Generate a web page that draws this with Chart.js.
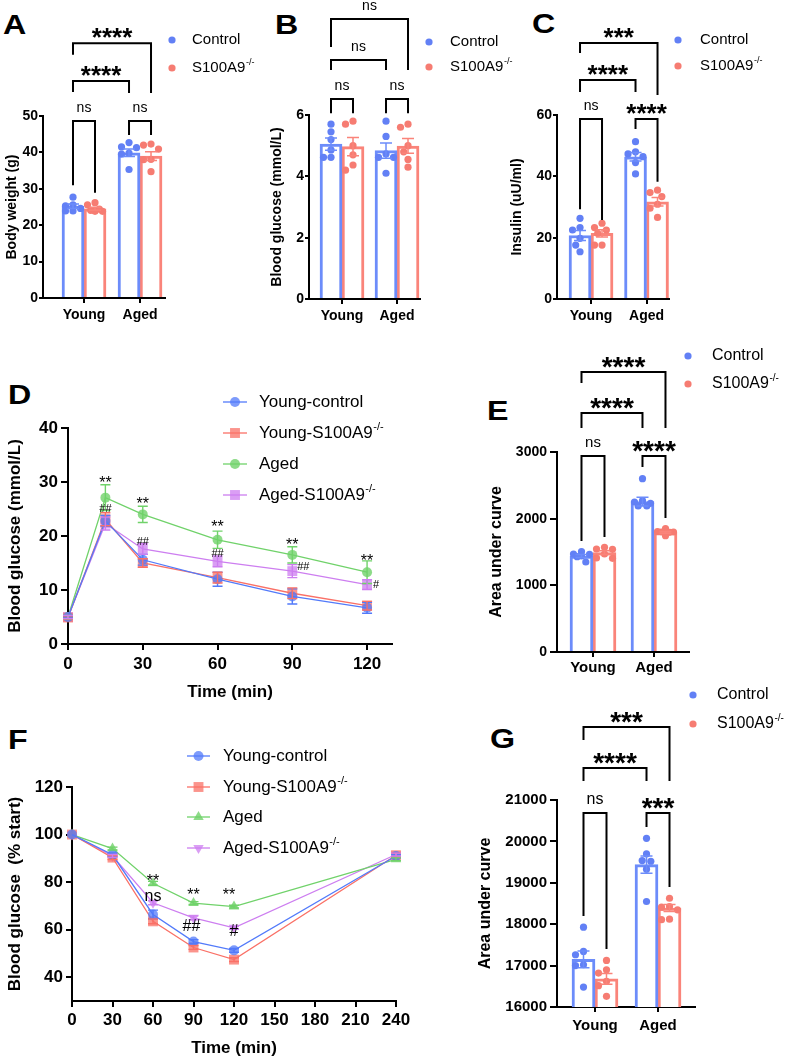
<!DOCTYPE html>
<html>
<head>
<meta charset="utf-8">
<script src="https://cdn.jsdelivr.net/npm/chart.js@4.4.1/dist/chart.umd.min.js"></script>
<style>
  body { margin: 0; background: #fff; width: 790px; height: 1061px; position: relative; overflow: hidden; }
  canvas { position: absolute; left: 0; top: 0; }
  .tag { position: absolute; font: bold 28px "Liberation Sans", Arial, sans-serif; line-height: 1; transform: scaleX(1.15); transform-origin: left top; }
</style>
</head>
<body>
<div class="tag" style="left:3px;top:11px">A</div>
<div class="tag" style="left:275px;top:11px">B</div>
<div class="tag" style="left:532px;top:10px">C</div>
<div class="tag" style="left:8px;top:381px">D</div>
<div class="tag" style="left:487px;top:397px">E</div>
<div class="tag" style="left:8px;top:726px">F</div>
<div class="tag" style="left:490px;top:725px">G</div>
<canvas id="cA" width="790" height="1061"></canvas>
<canvas id="cB" width="790" height="1061"></canvas>
<canvas id="cC" width="790" height="1061"></canvas>
<canvas id="cD" width="790" height="1061"></canvas>
<canvas id="cE" width="790" height="1061"></canvas>
<canvas id="cF" width="790" height="1061"></canvas>
<canvas id="cG" width="790" height="1061"></canvas>
<script>
const FONT = '"Liberation Sans", Arial, Helvetica, sans-serif';
Chart.defaults.font.family = FONT;
Chart.defaults.color = '#000';
Chart.defaults.animation = false;
Chart.defaults.events = [];

const BAR_BLUE = 'rgb(108,140,250)', BAR_RED = 'rgb(250,132,122)';
const DOT_BLUE = 'rgb(98,128,245)', DOT_RED = 'rgb(246,124,114)';

const groups = ['Young', 'Aged'];

// A: body weight (g)
const aTicks = [0, 10, 20, 30, 40, 50];
const aCtrlMean = [25.2, 39.9], aCtrlSem = [0.6, 1.0];
const aKoMean = [24.5, 39.0], aKoSem = [0.4, 1.2];
const aYoungCtrl = [27.7, 25.6, 25.3, 24.6, 23.9, 23.9];
const aYoungKo = [26.2, 25.6, 24.4, 24.1, 23.8, 23.8];
const aAgedCtrl = [42.7, 41.5, 41.3, 39.8, 39.5, 35.3];
const aAgedKo = [42.3, 42.0, 40.9, 38.1, 38.0, 34.7];

// B: blood glucose (mmol/L)
const bTicks = [0, 2, 4, 6];
const bCtrlMean = [5.05, 4.84], bCtrlSem = [0.2, 0.25];
const bKoMean = [4.97, 4.99], bKoSem = [0.3, 0.24];
const bYoungCtrl = [5.7, 5.45, 5.2, 4.86, 4.62, 4.62];
const bYoungKo = [5.8, 5.7, 5.0, 4.7, 4.37, 4.2];
const bAgedCtrl = [5.8, 5.3, 4.73, 4.62, 4.62, 4.1];
const bAgedKo = [5.7, 5.6, 5.0, 4.8, 4.55, 4.3];

// C: insulin (uU/ml)
const cTicks = [0, 20, 40, 60];
const cCtrlMean = [20.7, 46.4], cCtrlSem = [1.6, 1.4];
const cKoMean = [21.4, 31.7], cKoSem = [1.2, 1.4];
const cYoungCtrl = [26.3, 23.3, 22.5, 19.8, 17.6, 15.4];
const cYoungKo = [24.7, 23.3, 22.5, 21.4, 17.6, 17.6];
const cAgedCtrl = [51.3, 48.0, 47.3, 46.4, 44.5, 40.8];
const cAgedKo = [35.5, 34.7, 33.4, 30.9, 29.6, 26.6];

// D: GTT blood glucose (mmol/L)
const dTimes = [0, 15, 30, 60, 90, 120];
const dTicksX = [0, 30, 60, 90, 120];
const dTicksY = [0, 10, 20, 30, 40];
const dYoungCtrl = [5.0, 22.8, 15.6, 12.0, 8.8, 6.7];
const dYoungCtrlSem = [0.3, 1.0, 1.0, 1.3, 1.4, 1.0];
const dYoungKo = [4.9, 23.1, 15.0, 12.3, 9.4, 7.1];
const dYoungKoSem = [0.3, 1.2, 0.8, 1.0, 1.0, 0.8];
const dAged = [5.0, 27.1, 24.0, 19.3, 16.5, 13.3];
const dAgedSem = [0.3, 2.4, 1.5, 1.6, 1.5, 2.1];
const dAgedKo = [5.0, 22.3, 17.6, 15.3, 13.5, 11.0];
const dAgedKoSem = [0.3, 1.2, 1.0, 1.0, 1.2, 0.9];

// E: GTT area under curve
const eTicks = [0, 1000, 2000, 3000];
const eCtrlMean = [1440, 2255], eCtrlSem = [22, 65];
const eKoMean = [1490, 1795], eKoSem = [28, 14];
const eYoungCtrl = [1505, 1470, 1465, 1440, 1430, 1350];
const eYoungKo = [1570, 1545, 1540, 1470, 1410, 1405];
const eAgedCtrl = [2600, 2270, 2250, 2230, 2190, 2190];
const eAgedKo = [1850, 1805, 1800, 1800, 1795, 1745];

// F: ITT blood glucose (% start)
const fTimes = [0, 30, 60, 90, 120, 240];
const fTicksX = [0, 30, 60, 90, 120, 150, 180, 210, 240];
const fTicksY = [40, 60, 80, 100, 120];
const fYMin = 30;
const fYoungCtrl = [100, 91.5, 66.4, 55.0, 51.3, 91.0];
const fYoungCtrlSem = [0, 0.8, 1.8, 0.8, 0.8, 0.8];
const fYoungKo = [100, 90.3, 63.5, 52.5, 47.4, 91.3];
const fYoungKoSem = [0, 0.8, 1.0, 0.8, 0.8, 0.8];
const fAged = [100, 94.1, 79.5, 71.2, 69.7, 89.6];
const fAgedSem = [0, 0.6, 0.8, 0.6, 0.6, 0.6];
const fAgedKo = [100, 91.0, 71.3, 65.0, 60.8, 91.6];
const fAgedKoSem = [0, 0.6, 0.8, 0.8, 0.6, 0.6];

// G: ITT area under curve
const gTicks = [16000, 17000, 18000, 19000, 20000, 21000];
const gCtrlMean = [17150, 19440], gCtrlSem = [200, 210];
const gKoMean = [16680, 18390], gKoSem = [130, 85];
const gYoungCtrl = [17929, 17342, 17262, 17021, 17000, 16482];
const gYoungKo = [17125, 16900, 16820, 16619, 16514, 16257];
const gAgedCtrl = [20075, 19698, 19537, 19520, 19328, 18548];
const gAgedKo = [18627, 18428, 18412, 18347, 18122, 18110];

const KO = 'S100A9', SUP = '-/-';

function baseFor(ch) {
  if (ch === '*') return 0.58;
  if (ch === '#') return 0.35;
  return 0.27;
}

function drawLabel(ctx, text, x, cy, font, size, align) {
  ctx.font = font;
  ctx.textAlign = align || 'center';
  ctx.textBaseline = 'alphabetic';
  ctx.fillStyle = '#000';
  ctx.fillText(text, x, cy + baseFor(text[0]) * size);
}

function drawLegendText(ctx, item, x, y, size) {
  ctx.font = size + 'px ' + FONT;
  ctx.textAlign = 'left';
  ctx.textBaseline = 'middle';
  ctx.fillStyle = '#000';
  ctx.fillText(item.text, x, y);
  if (item.sup) {
    const w = ctx.measureText(item.text).width;
    ctx.font = Math.round(size * 0.62) + 'px ' + FONT;
    ctx.fillText(item.sup, x + w + 0.5, y - size * 0.38);
  }
}

Chart.register({
  id: 'extras',
  afterDatasetsDraw(chart, args, o) {
    const ctx = chart.ctx, xs = chart.scales.x, ys = chart.scales.y;
    ctx.save();
    ctx.lineCap = 'butt';
    (o.errors || []).forEach(e => {
      const meta = chart.getDatasetMeta(e.ds);
      meta.data.forEach((el, i) => {
        const s = e.sem[i];
        if (!s) return;
        const px = el.x;
        const top = ys.getPixelForValue(e.mean[i] + s), bot = ys.getPixelForValue(e.mean[i] - s);
        ctx.strokeStyle = e.color;
        ctx.lineWidth = e.width || 1.5;
        ctx.beginPath();
        ctx.moveTo(px, top); ctx.lineTo(px, bot);
        ctx.moveTo(px - e.cap, top); ctx.lineTo(px + e.cap, top);
        ctx.moveTo(px - e.cap, bot); ctx.lineTo(px + e.cap, bot);
        ctx.stroke();
      });
    });
    if (o.brackets) {
      const gx = g => xs.getPixelForValue(Math.floor(g / 2)) + (g % 2 ? 1 : -1) * o.barPx / 2;
      o.brackets.forEach(([g1, g2, yTop, yL, yR, text]) => {
        const x1 = gx(g1), x2 = gx(g2), yt = ys.getPixelForValue(yTop);
        ctx.strokeStyle = '#000';
        ctx.lineWidth = 2;
        ctx.lineJoin = 'miter';
        ctx.beginPath();
        ctx.moveTo(x1, ys.getPixelForValue(yL));
        ctx.lineTo(x1, yt);
        ctx.lineTo(x2, yt);
        ctx.lineTo(x2, ys.getPixelForValue(yR));
        ctx.stroke();
        const star = text[0] === '*';
        const size = star ? o.starSize : o.nsSize;
        drawLabel(ctx, text, (x1 + x2) / 2, yt - (star ? 12 : 13), (star ? 'bold ' : '') + size + 'px ' + FONT, size);
      });
    }
    (o.notes || []).forEach(([xv, yv, text, size, dx]) => {
      drawLabel(ctx, text, xs.getPixelForValue(xv) + (dx || 0), ys.getPixelForValue(yv), size + 'px ' + FONT, size);
    });
    if (o.dotLegend) {
      const L = o.dotLegend;
      L.items.forEach((it, i) => {
        ctx.fillStyle = it.color;
        ctx.beginPath();
        ctx.arc(L.dotX, L.rows[i], 3.6, 0, Math.PI * 2);
        ctx.fill();
        drawLegendText(ctx, it, L.textX, L.rows[i], L.size);
      });
    }
    if (o.lineLegend) {
      const L = o.lineLegend;
      chart.data.datasets.forEach((ds, i) => {
        const y = L.rows[i];
        ctx.strokeStyle = ds.borderColor;
        ctx.lineWidth = ds.borderWidth;
        ctx.beginPath();
        ctx.moveTo(L.x0, y); ctx.lineTo(L.x1, y);
        ctx.stroke();
        ctx.fillStyle = ds.pointBackgroundColor;
        Chart.helpers.drawPoint(ctx, { pointStyle: ds.pointStyle, radius: ds.pointRadius, rotation: ds.pointRotation || 0, borderWidth: 0 }, (L.x0 + L.x1) / 2, y);
        drawLegendText(ctx, L.items[i], L.textX, y, L.size);
      });
    }
    ctx.restore();
  }
});

function swarm(vals, yPx, d, lim) {
  const idx = vals.map((_, i) => i).sort((a, b) => vals[b] - vals[a]);
  const off = [], placed = [];
  const steps = [0, -0.6, 0.6, -1.2, 1.2, -1.8, 1.8];
  for (const i of idx) {
    let pick = 0, best = -1;
    for (const s of steps) {
      const dx = Math.max(-lim, Math.min(lim, s * d));
      let gap = Infinity;
      for (const q of placed) gap = Math.min(gap, Math.hypot(dx - q.dx, (vals[i] - q.v) * yPx));
      if (gap >= d) { pick = dx; break; }
      if (gap > best) { best = gap; pick = dx; }
    }
    off[i] = pick;
    placed.push({ dx: pick, v: vals[i] });
  }
  return off;
}

function axisY(p) {
  const yMin = p.yMin !== undefined ? p.yMin : p.yTicks[0];
  return {
    type: 'linear', min: yMin, max: p.yTicks[p.yTicks.length - 1], beginAtZero: false,
    afterBuildTicks: s => { s.ticks = p.yTicks.map(v => ({ value: v })); },
    afterFit: s => { s.width = p.yW; },
    border: { display: true, color: '#000', width: 2 },
    grid: { display: true, drawOnChartArea: false, drawTicks: true, tickLength: p.yTl, color: '#000', lineWidth: 2 },
    ticks: { font: { size: p.tickSize, weight: 'bold' }, padding: p.yPad, color: '#000', callback: v => String(v) },
    title: { display: true, text: p.yTitle, font: { size: p.titleSize, weight: 'bold' }, padding: 0, color: '#000' }
  };
}

function barPanel(id, p) {
  const a = p.area;
  const unit = (p.xMax - p.xMin) / (a.r - a.l);
  const yPx = (a.b - a.t) / (p.yTicks[p.yTicks.length - 1] - p.yTicks[0]);
  const half = p.barPx / 2 * unit;
  const dots = p.dots.map((vals, g) => {
    const c = Math.floor(g / 2) + (g % 2 ? half : -half);
    const off = swarm(vals, yPx, 7.2, p.barPx / 2 - 3.5);
    return {
      type: 'scatter', data: vals.map((v, i) => ({ x: c + off[i] * unit, y: v })),
      backgroundColor: g % 2 ? DOT_RED : DOT_BLUE, pointRadius: 3.6, borderWidth: 0, order: 0
    };
  });
  const xH = 30;
  p.yW = a.l - p.padL;
  new Chart(document.getElementById(id), {
    type: 'bar',
    data: {
      datasets: [
        { type: 'bar', label: 'Control', data: p.ctrlMean.map((m, i) => ({ x: i, y: m })), backgroundColor: '#fff', borderColor: BAR_BLUE, borderWidth: 3, barThickness: p.barPx, order: 1 },
        { type: 'bar', label: KO, data: p.koMean.map((m, i) => ({ x: i, y: m })), backgroundColor: '#fff', borderColor: BAR_RED, borderWidth: 3, barThickness: p.barPx, order: 1 },
        ...dots
      ]
    },
    options: {
      responsive: false, maintainAspectRatio: false,
      layout: { padding: { left: p.padL, top: a.t, right: 790 - a.r, bottom: 1061 - a.b - xH } },
      scales: {
        x: {
          type: 'linear', min: p.xMin, max: p.xMax, offset: false,
          afterBuildTicks: s => { s.ticks = groups.map((g, i) => ({ value: i })); },
          afterFit: s => { s.height = xH; },
          border: { display: true, color: '#000', width: 2 },
          grid: { display: true, offset: false, drawOnChartArea: false, drawTicks: true, tickLength: 5, color: '#000', lineWidth: 2 },
          ticks: { font: { size: p.xTickSize, weight: 'bold' }, padding: p.xPad, color: '#000', callback: v => groups[v], maxRotation: 0 }
        },
        y: axisY(p)
      },
      plugins: {
        legend: { display: false }, tooltip: { enabled: false },
        extras: {
          barPx: p.barPx, starSize: p.starSize, nsSize: p.nsSize,
          errors: [
            { ds: 0, mean: p.ctrlMean, sem: p.ctrlSem, color: BAR_BLUE, cap: 6 },
            { ds: 1, mean: p.koMean, sem: p.koSem, color: BAR_RED, cap: 6 }
          ],
          brackets: p.brackets,
          dotLegend: {
            dotX: p.legend.dotX, textX: p.legend.textX, rows: p.legend.rows, size: p.legend.size,
            items: [{ text: 'Control', color: DOT_BLUE }, { text: KO, sup: SUP, color: DOT_RED }]
          }
        }
      }
    }
  });
}

function linePanel(id, p) {
  const a = p.area;
  p.yW = a.l - p.padL;
  const xH = p.xH;
  const datasets = p.series.map(s => ({
    label: s.text, data: p.times.map((t, i) => ({ x: t, y: s.vals[i] })),
    borderColor: s.color, borderWidth: 1.3, backgroundColor: s.fill, pointBackgroundColor: s.fill,
    pointBorderWidth: 0, pointRadius: s.r, pointStyle: s.style, pointRotation: s.rot || 0, tension: 0, clip: false
  }));
  new Chart(document.getElementById(id), {
    type: 'line',
    data: { datasets },
    options: {
      responsive: false, maintainAspectRatio: false,
      layout: { padding: { left: p.padL, top: a.t, right: 790 - a.r, bottom: 1061 - a.b - xH } },
      scales: {
        x: {
          type: 'linear', min: p.xTicks[0], max: p.xMax,
          afterBuildTicks: s => { s.ticks = p.xTicks.map(v => ({ value: v })); },
          afterFit: s => { s.height = xH; },
          border: { display: true, color: '#000', width: 2 },
          grid: { display: true, drawOnChartArea: false, drawTicks: true, tickLength: 6, color: '#000', lineWidth: 2 },
          ticks: { font: { size: p.tickSize, weight: 'bold' }, padding: p.xPad, color: '#000', maxRotation: 0, autoSkip: false, callback: v => String(v) },
          title: { display: true, text: 'Time (min)', font: { size: p.titleSize, weight: 'bold' }, padding: 0, color: '#000' }
        },
        y: axisY(p)
      },
      plugins: {
        legend: { display: false }, tooltip: { enabled: false },
        extras: {
          errors: p.series.map((s, i) => ({ ds: i, mean: s.vals, sem: s.sem, color: s.color, cap: 5, width: 1.4 })),
          notes: p.notes,
          lineLegend: Object.assign({ items: p.series }, p.legend)
        }
      }
    }
  });
}

barPanel('cA', {
  area: { l: 43, r: 165, t: 116, b: 298 }, padL: 3.6, xMin: -0.732, xMax: 1.446, barPx: 22,
  yTicks: aTicks, yTitle: 'Body weight (g)', titleSize: 14, tickSize: 14, xTickSize: 14, yTl: 4, yPad: 1, xPad: 4,
  ctrlMean: aCtrlMean, ctrlSem: aCtrlSem, koMean: aKoMean, koSem: aKoSem,
  dots: [aYoungCtrl, aYoungKo, aAgedCtrl, aAgedKo],
  starSize: 26, nsSize: 14,
  brackets: [[0, 1, 48.6, 31, 28.9, 'ns'], [2, 3, 48.6, 44.8, 44.8, 'ns'], [0, 2, 59.6, 56.6, 56.3, '****'], [0, 3, 70, 66.8, 56.3, '****']],
  legend: { dotX: 172, textX: 192, rows: [40, 68], size: 15 }
});

barPanel('cB', {
  area: { l: 309, r: 420, t: 115, b: 299 }, padL: 268.6, xMin: -0.6, xMax: 1.418, barPx: 22,
  yTicks: bTicks, yTitle: 'Blood glucose (mmol/L)', titleSize: 14, tickSize: 14, xTickSize: 14, yTl: 4, yPad: 1, xPad: 4,
  ctrlMean: bCtrlMean, ctrlSem: bCtrlSem, koMean: bKoMean, koSem: bKoSem,
  dots: [bYoungCtrl, bYoungKo, bAgedCtrl, bAgedKo],
  starSize: 26, nsSize: 14,
  brackets: [[0, 1, 6.52, 6.06, 6.06, 'ns'], [2, 3, 6.52, 6.06, 6.06, 'ns'], [0, 2, 7.79, 7.47, 7.47, 'ns'], [0, 3, 9.13, 8.22, 7.47, 'ns']],
  legend: { dotX: 429, textX: 450, rows: [42, 67], size: 15 }
});

barPanel('cC', {
  area: { l: 557, r: 669, t: 115, b: 299 }, padL: 508.6, xMin: -0.613, xMax: 1.405, barPx: 22,
  yTicks: cTicks, yTitle: 'Insulin (uU/ml)', titleSize: 14, tickSize: 14, xTickSize: 14, yTl: 4, yPad: 1, xPad: 4,
  ctrlMean: cCtrlMean, ctrlSem: cCtrlSem, koMean: cKoMean, koSem: cKoSem,
  dots: [cYoungCtrl, cYoungKo, cAgedCtrl, cAgedKo],
  starSize: 26, nsSize: 14,
  brackets: [[0, 1, 58.7, 29.3, 25.8, 'ns'], [2, 3, 58.7, 55.4, 38.2, '****'], [0, 2, 71.4, 67.5, 67.5, '****'], [0, 3, 83.5, 80.2, 66.5, '***']],
  legend: { dotX: 678, textX: 700, rows: [40, 66], size: 15 }
});

barPanel('cE', {
  area: { l: 557, r: 689, t: 452, b: 652 }, padL: 487.4, xMin: -0.59, xMax: 1.574, barPx: 23,
  yTicks: eTicks, yTitle: 'Area under curve', titleSize: 16, tickSize: 14, xTickSize: 15, yTl: 7, yPad: 3, xPad: 2,
  ctrlMean: eCtrlMean, ctrlSem: eCtrlSem, koMean: eKoMean, koSem: eKoSem,
  dots: [eYoungCtrl, eYoungKo, eAgedCtrl, eAgedKo],
  starSize: 28, nsSize: 15,
  brackets: [[0, 1, 2940, 1665, 1725, 'ns'], [2, 3, 2940, 2775, 2010, '****'], [0, 2, 3585, 3360, 3360, '****'], [0, 3, 4200, 4035, 3360, '****']],
  legend: { dotX: 688, textX: 712, rows: [356, 384], size: 16 }
});

barPanel('cG', {
  area: { l: 557, r: 695, t: 800, b: 1007 }, padL: 476.4, xMin: -0.603, xMax: 1.587, barPx: 23,
  yTicks: gTicks, yTitle: 'Area under curve', titleSize: 16, tickSize: 15, xTickSize: 15, yTl: 7, yPad: 3, xPad: 5,
  ctrlMean: gCtrlMean, ctrlSem: gCtrlSem, koMean: gKoMean, koSem: gKoSem,
  dots: [gYoungCtrl, gYoungKo, gAgedCtrl, gAgedKo],
  starSize: 28, nsSize: 16,
  brackets: [[0, 1, 20685, 18198, 17400, 'ns'], [2, 3, 20685, 20347, 18898, '***'], [0, 2, 21772, 21458, 21458, '****'], [0, 3, 22762, 22448, 21458, '***']],
  legend: { dotX: 693, textX: 717, rows: [695, 724], size: 16 }
});

const LBLUE = 'rgb(82,122,250)', LRED = 'rgb(250,112,102)', LGREEN = 'rgb(112,210,106)', LPURPLE = 'rgb(205,126,240)';
const FBLUE = 'rgba(82,122,250,0.75)', FRED = 'rgba(250,112,102,0.75)', FGREEN = 'rgba(112,210,106,0.8)', FPURPLE = 'rgba(205,126,240,0.75)';

linePanel('cD', {
  area: { l: 68, r: 392, t: 428, b: 644 }, padL: 4.8, xH: 58.2, xMax: 130,
  times: dTimes, xTicks: dTicksX, yTicks: dTicksY,
  yTitle: 'Blood glucose (mmol/L)', titleSize: 17, tickSize: 17, yTl: 7, yPad: 3, xPad: 4,
  series: [
    { text: 'Young-control', vals: dYoungCtrl, sem: dYoungCtrlSem, color: LBLUE, fill: FBLUE, style: 'circle', r: 5 },
    { text: 'Young-' + KO, sup: SUP, vals: dYoungKo, sem: dYoungKoSem, color: LRED, fill: FRED, style: 'rect', r: 7 },
    { text: 'Aged', vals: dAged, sem: dAgedSem, color: LGREEN, fill: FGREEN, style: 'circle', r: 5 },
    { text: 'Aged-' + KO, sup: SUP, vals: dAgedKo, sem: dAgedKoSem, color: LPURPLE, fill: FPURPLE, style: 'rect', r: 7 }
  ],
  notes: [
    [15, 30.6, '**', 16], [30, 26.7, '**', 16], [60, 22.4, '**', 16], [90, 19.1, '**', 16], [120, 16.1, '**', 16],
    [15, 25.2, '##', 11], [30, 19.1, '##', 11], [60, 16.9, '##', 11], [90, 14.4, '##', 11, 11], [120, 11.1, '#', 11, 9]
  ],
  legend: { x0: 223, x1: 247, textX: 259, rows: [402, 433, 464, 495], size: 17 }
});

linePanel('cF', {
  area: { l: 72, r: 396, t: 787, b: 1001 }, padL: 4.8, xH: 57.2, xMax: 240,
  times: fTimes, xTicks: fTicksX, yTicks: fTicksY, yMin: fYMin,
  yTitle: 'Blood glucose  (% start)', titleSize: 17, tickSize: 17, yTl: 6, yPad: 3, xPad: 3,
  series: [
    { text: 'Young-control', vals: fYoungCtrl, sem: fYoungCtrlSem, color: LBLUE, fill: FBLUE, style: 'circle', r: 5 },
    { text: 'Young-' + KO, sup: SUP, vals: fYoungKo, sem: fYoungKoSem, color: LRED, fill: FRED, style: 'rect', r: 7 },
    { text: 'Aged', vals: fAged, sem: fAgedSem, color: LGREEN, fill: FGREEN, style: 'triangle', r: 6 },
    { text: 'Aged-' + KO, sup: SUP, vals: fAgedKo, sem: fAgedKoSem, color: LPURPLE, fill: FPURPLE, style: 'triangle', r: 6, rot: 180 }
  ],
  notes: [
    [60, 82.3, '**', 16], [60, 73.9, 'ns', 16], [90, 76.4, '**', 16], [120, 76.4, '**', 16, -5],
    [90, 61.8, '##', 16, -2], [120, 59.7, '#', 16]
  ],
  legend: { x0: 187, x1: 210, textX: 223, rows: [756, 787, 817, 848], size: 17 }
});
</script>
</body>
</html>
